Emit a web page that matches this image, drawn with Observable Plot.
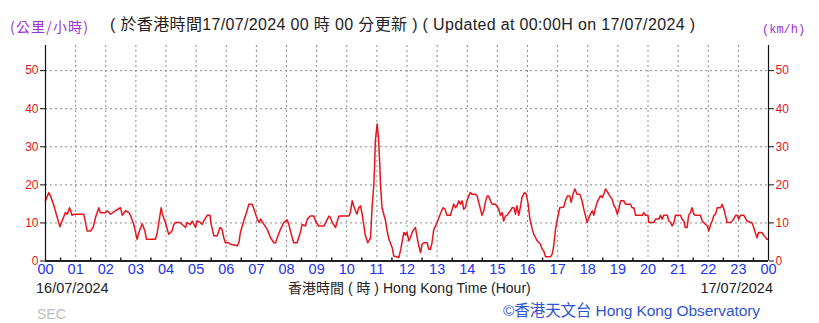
<!DOCTYPE html>
<html>
<head>
<meta charset="utf-8">
<script src="https://cdn.jsdelivr.net/npm/d3@7"></script>
<script src="https://cdn.jsdelivr.net/npm/@observablehq/plot@0.6"></script>
<style>
  html, body { margin: 0; padding: 0; background: #fff; }
  #wrap { position: relative; width: 819px; height: 323px; overflow: hidden; }
  #overlay { position: absolute; left: 0; top: 0; pointer-events: none; }
  #chart svg { display: block; }
</style>
</head>
<body>
<div id="wrap">
  <div id="chart"></div>
  <svg id="overlay" width="819" height="323"></svg>
</div>
<script>
// Hours since 00:00 on 16/07/2024
const hours = [
  0.00,0.11,0.17,0.28,0.39,0.48,0.55,0.66,0.72,0.80,0.88,0.94,1.27,1.33,1.38,1.49,1.58,1.66,1.77,1.82,
  1.99,2.05,2.16,2.32,2.49,2.55,2.66,2.77,2.82,2.93,3.04,3.10,3.21,3.30,3.35,3.65,3.71,3.84,3.88,3.98,
  4.09,4.20,4.26,4.31,4.48,4.54,4.65,4.70,4.81,4.87,4.98,5.03,5.14,5.20,5.25,5.37,5.46,5.50,5.59,5.70,
  5.79,5.86,5.92,5.97,6.08,6.14,6.36,6.42,6.47,6.58,6.69,6.75,6.86,6.92,7.03,7.09,7.14,7.25,7.36,7.47,
  7.58,7.64,7.69,7.80,7.91,8.02,8.08,8.19,8.24,8.35,8.46,8.52,8.63,8.69,8.79,8.91,8.96,9.07,9.24,9.30,
  9.41,9.46,9.52,9.63,9.69,9.74,9.91,10.07,10.12,10.18,10.23,10.29,10.34,10.40,10.46,10.51,10.57,10.62,10.70,10.79,
  10.84,10.90,10.93,10.95,11.01,11.06,11.09,11.12,11.17,11.29,11.34,11.40,11.51,11.56,11.73,11.80,11.86,11.90,11.95,12.00,
  12.06,12.11,12.17,12.23,12.28,12.34,12.39,12.45,12.50,12.56,12.67,12.72,12.78,12.83,12.89,12.95,13.00,13.06,13.17,13.20,
  13.26,13.33,13.44,13.50,13.55,13.61,13.66,13.72,13.77,13.83,13.88,13.94,13.99,14.05,14.10,14.16,14.27,14.33,14.38,14.44,
  14.49,14.55,14.60,14.66,14.71,14.77,14.83,14.94,15.05,15.10,15.16,15.21,15.27,15.32,15.38,15.44,15.49,15.55,15.60,15.65,
  15.71,15.76,15.82,15.90,15.96,16.02,16.08,16.16,16.21,16.27,16.32,16.43,16.49,16.54,16.60,16.76,16.82,16.87,16.93,16.98,
  17.07,17.20,17.26,17.32,17.40,17.45,17.51,17.57,17.65,17.74,17.81,17.87,17.92,17.98,18.04,18.09,18.15,18.20,18.26,18.31,
  18.42,18.48,18.53,18.59,18.64,18.70,18.81,18.87,18.92,18.98,19.03,19.09,19.20,19.25,19.42,19.47,19.53,19.59,19.81,19.86,
  19.92,20.00,20.03,20.19,20.25,20.36,20.41,20.47,20.52,20.64,20.69,20.75,20.80,20.86,20.91,21.08,21.13,21.19,21.24,21.30,
  21.35,21.41,21.46,21.52,21.57,21.74,21.80,21.91,21.97,22.02,22.08,22.13,22.19,22.24,22.30,22.41,22.46,22.52,22.57,22.63,
  22.74,22.80,22.91,22.96,23.01,23.07,23.18,23.29,23.40,23.45,23.51,23.56,23.62,23.67,23.78,23.86,23.95,24.00
];
// Wind speed, km/h
const speeds = [
  15.8,18.0,17.0,14.5,11.4,9.0,10.5,12.7,12.3,14.0,12.0,12.3,12.3,10.0,7.9,7.9,8.8,11.4,14.0,12.7,
  12.7,13.2,12.3,13.2,14.0,12.0,13.2,12.7,12.0,9.6,5.7,7.5,9.8,7.9,5.7,5.7,7.5,14.0,12.3,10.1,
  7.0,7.9,9.6,10.1,10.1,9.6,8.8,10.1,9.6,10.5,8.8,10.5,10.1,9.6,10.5,12.0,12.0,9.6,6.6,6.6,
  8.8,8.3,6.1,4.8,4.8,4.4,4.0,4.8,7.5,10.5,13.2,14.9,14.9,13.6,11.0,10.1,11.0,9.6,8.3,6.1,
  4.8,4.8,6.1,8.3,10.1,10.8,9.5,6.1,4.8,4.8,7.5,9.6,9.2,11.0,11.8,11.8,10.5,9.2,9.2,10.1,
  11.8,11.4,10.1,8.8,10.5,11.8,11.8,11.8,12.7,15.8,14.5,13.2,12.3,14.0,14.5,12.3,9.2,6.6,4.8,6.1,
  14.0,20.2,26.3,31.6,36.0,31.6,26.3,20.2,14.0,10.5,7.9,5.7,3.5,1.3,0.9,3.3,6.1,7.5,6.8,7.5,
  5.3,6.1,7.5,8.3,8.8,6.1,4.0,2.2,4.4,4.8,4.8,3.1,3.1,4.8,8.3,9.2,10.1,11.4,13.6,14.0,
  13.6,12.0,12.0,13.6,14.9,14.0,14.5,15.8,14.9,15.8,13.6,14.0,15.8,17.1,18.0,17.5,17.5,17.1,15.4,13.6,
  12.0,13.2,15.4,17.1,17.1,15.8,14.9,14.9,13.6,12.0,12.7,10.5,11.8,12.0,12.7,13.2,14.0,14.0,12.3,14.5,
  12.0,14.0,16.7,18.0,17.5,15.0,11.0,8.3,7.0,6.1,5.3,4.4,3.1,2.6,1.1,1.1,1.8,4.0,8.3,10.5,
  14.0,14.2,15.8,17.1,17.1,15.4,17.5,18.9,17.5,17.5,15.8,13.6,12.0,10.1,11.4,12.3,13.2,12.0,14.0,15.4,
  17.1,16.7,17.5,18.9,18.4,17.5,16.2,14.5,14.0,12.3,13.6,15.8,15.8,14.9,14.9,14.0,14.0,12.0,12.0,12.7,
  12.0,12.0,10.1,10.1,11.0,11.0,12.0,11.0,12.0,12.0,10.5,10.1,9.2,10.1,12.0,12.0,11.0,10.5,8.8,8.8,
  12.0,12.7,14.0,12.3,12.0,12.0,10.5,9.6,9.2,7.9,9.6,10.5,12.0,12.3,14.0,14.0,14.9,13.6,12.0,10.1,
  10.1,10.5,12.0,12.0,11.0,12.0,12.0,10.5,10.1,10.1,8.8,7.5,6.1,7.5,7.5,6.6,5.7,5.7
];
const hourTicks = d3.range(0, 25);
const gridHours = d3.range(1, 24);
const halfHourTicks = d3.range(0.5, 24, 1);
const yTicks = [0, 10, 20, 30, 40, 50];
const yGrid = [10, 20, 30, 40, 50];
const yMax = 56.6;

const data = hours.map((h, i) => ({h, v: speeds[i]}));

const chart = Plot.plot({
  width: 819,
  height: 323,
  marginTop: 45,
  marginBottom: 62.5,
  marginLeft: 45,
  marginRight: 51,
  style: {fontFamily: "'Liberation Sans', Arial, sans-serif", background: "#fff"},
  x: {domain: [0, 24], label: null},
  y: {domain: [0, yMax], label: null},
  marks: [
    Plot.gridX(gridHours, {stroke: "#8a8a8a", strokeOpacity: 1, strokeDasharray: "2,3"}),
    Plot.gridY(yGrid, {stroke: "#8a8a8a", strokeOpacity: 1, strokeDasharray: "2,3"}),
    Plot.line(data, {x: "h", y: "v", stroke: "#e8141b", strokeWidth: 1.5}),
    Plot.ruleX([0, 24], {stroke: "#111", strokeWidth: 1.2}),
    Plot.ruleY([0], {stroke: "#222", strokeWidth: 2}),
    Plot.ruleX(halfHourTicks, {stroke: "#222", strokeWidth: 1.5, insetTop: 212.5}),
    Plot.axisY(yTicks, {anchor: "left", label: null, tickSize: 5, tickPadding: 2, stroke: "#111", fill: "#e8141b", fontSize: 12}),
    Plot.axisY(yTicks, {anchor: "right", label: null, tickSize: 5, tickPadding: 2, stroke: "#111", fill: "#e8141b", fontSize: 12}),
    Plot.axisX(hourTicks, {anchor: "bottom", label: null, tickSize: 0, tickPadding: 3, fill: "#2233ee", fontSize: 14.5,
      tickFormat: d => String(d % 24).padStart(2, "0")})
  ]
});
document.getElementById("chart").appendChild(chart);

// Titles, labels and credits
const ov = d3.select("#overlay");
const txt = (s, x, y, opts = {}) => {
  const t = ov.append("text").attr("x", x).attr("y", y).text(s)
    .attr("font-family", opts.family || "'Liberation Sans', 'Noto Sans CJK TC', sans-serif")
    .attr("font-size", opts.size || 14)
    .attr("fill", opts.fill || "#222")
    .attr("text-anchor", opts.anchor || "start");
  if (opts.len) t.attr("textLength", opts.len).attr("lengthAdjust", "spacing");
  return t;
};
txt("(公里/小時)", 10, 32, {size: 14, fill: "#9b30d9", family: "'Noto Sans CJK TC', sans-serif", len: 78});
txt("( 於香港時間17/07/2024 00 時 00 分更新 ) ( Updated at 00:00H on 17/07/2024 )", 110, 30,
    {size: 16, fill: "#222", family: "'Liberation Sans', 'Noto Sans CJK TC', sans-serif", len: 585});
txt("(km/h)", 762, 33, {size: 12, fill: "#9b30d9", family: "'Liberation Mono', 'DejaVu Sans Mono', monospace"});
txt("16/07/2024", 36, 293, {size: 14.5, fill: "#222"});
txt("香港時間 ( 時 ) Hong Kong Time (Hour)", 288, 293, {size: 14, fill: "#222"});
txt("17/07/2024", 773, 293, {size: 14.5, fill: "#222", anchor: "end"});
txt("©香港天文台 Hong Kong Observatory", 503, 316, {size: 15.5, fill: "#2f55d4", len: 257});
txt("SEC", 37, 319, {size: 14, fill: "#bbbbbb"});
</script>
</body>
</html>
